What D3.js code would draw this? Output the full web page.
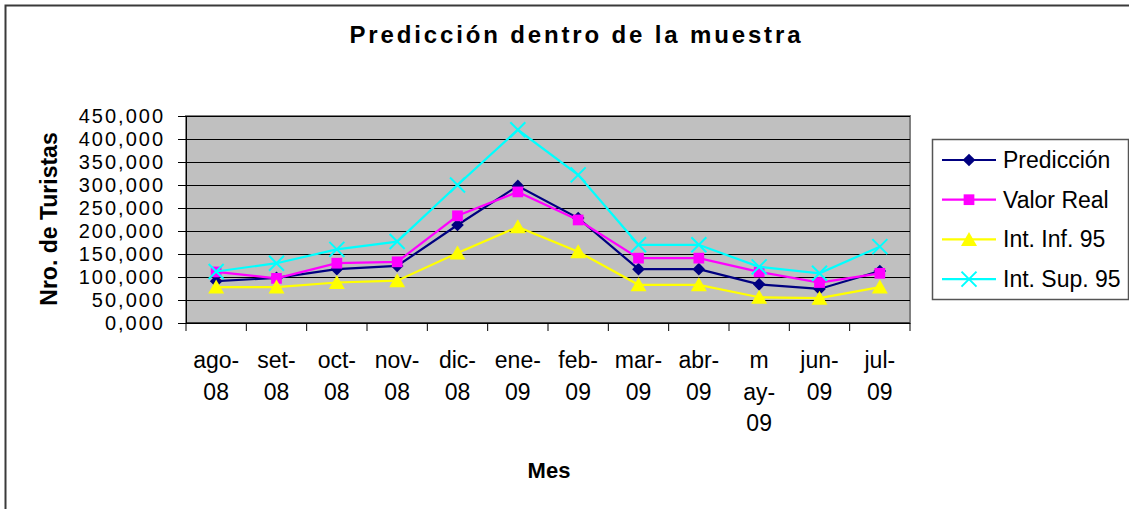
<!DOCTYPE html>
<html>
<head>
<meta charset="utf-8">
<script src="https://cdn.jsdelivr.net/npm/d3@7"></script>
<style>
  body { margin: 0; background: #fff; }
  text { font-family: "Liberation Sans", Arial, sans-serif; fill: #000; }
</style>
</head>
<body>
<div id="chart"></div>
<script>
// chart data
const categories = ["ago-08","set-08","oct-08","nov-08","dic-08","ene-09","feb-09","mar-09","abr-09","may-09","jun-09","jul-09"]
const tickLines = [["ago-","08"],["set-","08"],["oct-","08"],["nov-","08"],["dic-","08"],["ene-","09"],
                   ["feb-","09"],["mar-","09"],["abr-","09"],["m","ay-","09"],["jun-","09"],["jul-","09"]]
const yTicks = [0,50000,100000,150000,200000,250000,300000,350000,400000,450000]
const yTickLabels = ["0,000","50,000","100,000","150,000","200,000","250,000","300,000","350,000","400,000","450,000"]

const prediccion = [91000, 98000, 117000, 124000, 213000, 298000, 228000, 117000, 117000, 84000, 74000, 113000]
const valorReal  = [111000, 97000, 130000, 133000, 233000, 285000, 224000, 141000, 141000, 111000, 88000, 108000]
const intInf     = [78000, 78000, 88000, 92000, 152000, 209000, 155000, 83000, 83000, 56000, 54000, 78000]
const intSup     = [112000, 130000, 160000, 177000, 300000, 420000, 322000, 170000, 170000, 122000, 108000, 166000]

const seriesNames = ["Predicción","Valor Real","Int. Inf. 95","Int. Sup. 95"]
const seriesValues = [prediccion, valorReal, intInf, intSup]
const seriesColors = ["#000080","#FF00FF","#FFFF00","#00FFFF"]
const seriesMarkers = ["diamond","square","triangle","x"]

const W = 1129, H = 509
const plot = {left: 186, right: 910, top: 116, bottom: 323}

var svg = d3.select("#chart").append("svg")
  .attr("width", W)
  .attr("height", H)

// outer chart frame
svg.append("rect")
  .attr("x", 5.5).attr("y", 5.5)
  .attr("width", W + 10).attr("height", H + 10)
  .attr("fill", "#fff")
  .attr("stroke", "#3a3a3a")
  .attr("stroke-width", 2)

var x = d3.scaleBand()
  .domain(categories)
  .range([plot.left, plot.right])
  .padding(0)

var y = d3.scaleLinear()
  .domain([0, 450000])
  .range([plot.bottom, plot.top])

// plot area
svg.append("rect")
  .attr("x", plot.left).attr("y", plot.top)
  .attr("width", plot.right - plot.left)
  .attr("height", plot.bottom - plot.top)
  .attr("fill", "#C0C0C0")
  .attr("stroke", "#808080")
  .attr("stroke-width", 2)

// grid lines
svg.append("g")
  .attr("transform", "translate(" + plot.left + ",0)")
  .call(d3.axisLeft(y).tickValues(yTicks).tickSize(-(plot.right - plot.left)).tickFormat(""))
  .call(g => g.select(".domain").remove())
  .call(g => g.selectAll("line").attr("stroke", "#000").attr("stroke-width", 1))

// y axis
svg.append("g")
  .attr("transform", "translate(" + plot.left + ",0)")
  .call(d3.axisLeft(y).tickValues(yTicks).tickSize(8).tickPadding(13)
    .tickFormat((d, i) => yTickLabels[i]))
  .call(g => g.select(".domain").attr("stroke", "#000"))
  .call(g => g.selectAll("text")
    .style("font-size", "20px")
    .style("letter-spacing", "2px")
    .attr("font-family", null))

// x axis: ticks between categories
var boundaries = categories.map(c => x(c)).concat([plot.right])
svg.append("g")
  .selectAll("line")
  .data(boundaries)
  .join("line")
  .attr("x1", d => d).attr("x2", d => d)
  .attr("y1", plot.bottom).attr("y2", plot.bottom + 8)
  .attr("stroke", "#000")
svg.append("line")
  .attr("x1", plot.left).attr("x2", plot.right)
  .attr("y1", plot.bottom).attr("y2", plot.bottom)
  .attr("stroke", "#000")

var xLabels = svg.append("g")
  .selectAll("text")
  .data(categories)
  .join("text")
  .attr("text-anchor", "middle")
  .style("font-size", "23px")
  .attr("transform", d => "translate(" + (x(d) + x.bandwidth() / 2) + ",0)")
xLabels.each(function(d, i) {
  d3.select(this).selectAll("tspan")
    .data(tickLines[i])
    .join("tspan")
    .attr("x", 0)
    .attr("y", (t, j) => 368 + j * 31.5)
    .text(t => t)
})

// titles
svg.append("text")
  .attr("x", 575).attr("y", 43)
  .attr("text-anchor", "middle")
  .attr("textLength", 451)
  .attr("lengthAdjust", "spacing")
  .style("font-size", "24px")
  .style("font-weight", "bold")
  .text("Predicción dentro de la muestra")

svg.append("text")
  .attr("x", 549).attr("y", 478)
  .attr("text-anchor", "middle")
  .style("font-size", "22px")
  .style("font-weight", "bold")
  .text("Mes")

svg.append("text")
  .attr("transform", "translate(57,219) rotate(-90)")
  .attr("text-anchor", "middle")
  .style("font-size", "23px")
  .style("font-weight", "bold")
  .text("Nro. de Turistas")

function drawMarker(g, type, color) {
  if (type == "diamond") {
    g.append("path").attr("d", d3.symbol(d3.symbolSquare, 80)())
      .attr("transform", "rotate(45)").attr("fill", color)
  } else if (type == "square") {
    g.append("path").attr("d", d3.symbol(d3.symbolSquare, 115)()).attr("fill", color)
  } else if (type == "triangle") {
    g.append("path").attr("d", "M0,-7.5L8,6.5L-8,6.5Z").attr("fill", color)
  } else {
    g.append("path").attr("d", "M-7.5,-7.5L7.5,7.5M-7.5,7.5L7.5,-7.5")
      .attr("stroke", color).attr("stroke-width", 2).attr("fill", "none")
  }
}

var line = d3.line()
  .x((d, i) => x(categories[i]) + x.bandwidth() / 2)
  .y(d => y(d))

seriesValues.forEach(function(vals, s) {
  svg.append("path")
    .datum(vals)
    .attr("fill", "none")
    .attr("stroke", seriesColors[s])
    .attr("stroke-width", 2.2)
    .attr("d", line)
  vals.forEach(function(v, i) {
    var g = svg.append("g")
      .attr("transform", "translate(" + (x(categories[i]) + x.bandwidth() / 2) + "," + y(v) + ")")
    drawMarker(g, seriesMarkers[s], seriesColors[s])
  })
})

// legend
var legend = svg.append("g")
legend.append("rect")
  .attr("x", 932.5).attr("y", 139.5)
  .attr("width", 196).attr("height", 160)
  .attr("fill", "#fff")
  .attr("stroke", "#555")
  .attr("stroke-width", 1.5)
seriesNames.forEach(function(name, s) {
  var ly = 160 + s * 39.7
  legend.append("line")
    .attr("x1", 942).attr("x2", 996)
    .attr("y1", ly).attr("y2", ly)
    .attr("stroke", seriesColors[s])
    .attr("stroke-width", 2.2)
  var g = legend.append("g").attr("transform", "translate(969," + ly + ")")
  drawMarker(g, seriesMarkers[s], seriesColors[s])
  legend.append("text")
    .attr("x", 1003).attr("y", ly + 8)
    .style("font-size", "23px")
    .text(name)
})
</script>
</body>
</html>
